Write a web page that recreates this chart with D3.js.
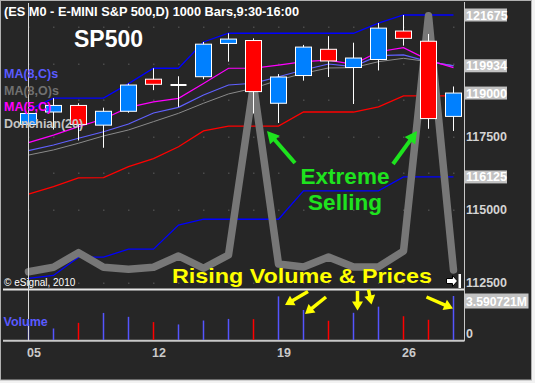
<!DOCTYPE html>
<html><head><meta charset="utf-8">
<script src="https://cdn.jsdelivr.net/npm/d3@7"></script>
<style>
html,body{margin:0;padding:0;background:#f2f2f2;}
svg{display:block;font-family:"Liberation Sans",Arial,sans-serif;}
</style>
</head><body>
<svg id="chart" width="535" height="383"></svg>
<script>
// ---------- data ----------
const dates   = ["05","06","07","08","09","12","13","14","15","16","19","20","21","22","23","26","27","28"];
const opens   = [117925,118350,118575,117900,118375,119475,119275,119560,120700,120800,118650,119600,120500,119875,120150,121125,120775,118200];
const highs   = [118425,118825,118650,118500,119325,119850,119575,120750,121050,120875,119650,120650,120950,120725,121400,121675,121025,119225];
const lows    = [117850,117750,117375,117125,118325,119100,118525,119475,120075,118300,117975,119425,119550,118625,119775,120625,117775,117700];
const closes  = [118300,118575,117925,118375,119275,119300,119275,120675,120850,119050,119550,120575,120100,120200,121225,120875,118125,119000];
const volumes = [1.30,0.94,1.40,2.21,1.89,1.46,1.27,1.59,1.72,1.70,3.56,2.45,1.57,2.22,2.72,1.94,1.65,3.590721];

const donchianUpper = [118425,118825,118825,118825,119325,119850,119850,120750,121050,121050,121050,121050,121050,121050,121400,121675,121675,121675];
const donchianMid   = [115540,115790,116090,116100,116480,116750,117160,117700,117865,117865,117865,118350,118350,118350,118525,118900,118900,118900];
const donchianLower = [112650,112750,113375,113375,113650,113650,114475,114675,114675,114675,114675,115650,115650,115650,115650,116125,116125,116125];
const ma5C  = [117300,117560,117850,118110,118510,118700,118820,119330,119850,119850,119960,120075,120130,119985,120415,120555,120130,119870];
const ma8C  = [117025,117220,117450,117675,117940,118315,118510,118935,119275,119335,119560,119790,119995,119905,120280,120305,120075,119934];
const ma8O  = [116875,117050,117280,117530,117735,118020,118305,118650,118970,119165,119445,119675,119860,119870,120075,120190,120075,119940];
const overlay = [112875,113030,113530,113030,112960,113030,113415,112995,113450,119275,113140,113040,113380,113040,113040,113585,121650,112935];

const priceTicks = [121675,119934,119000,117500,116125,115000,112500];
const boxedTicks = [121675,119934,119000,116125];
const gridLevels = [112500,115000,116250,117500,118750,120000,121250];
const dateTicks  = ["05","12","19","26"];
const volTicks   = [3.590721,0];
const legendItems = [
  {name:"MA(8,C)s", color:"#5a5aff"},
  {name:"MA(8,O)s", color:"#707070"},
  {name:"MA(5,C)",  color:"#ff00ff"},
  {name:"Donchian(20)", color:"#c4c4c4"}
];

// ---------- scales ----------
const svg = d3.select("#chart");
const n = dates.length;
const x = d3.scaleLinear().domain([0, n-1]).range([28.5, 453.5]);
const y = d3.scaleLinear().domain([112500,121675]).range([282.7,15]);
const vy = d3.scaleLinear().domain([0,3.590721]).range([340,296]);
const idx = d3.range(n);

// ---------- frame ----------
svg.append("rect").attr("x",0.5).attr("y",0.5).attr("width",531).attr("height",379.5)
  .attr("fill","#262626").attr("stroke","#b0b0b0");

const defs = svg.append("defs");
defs.append("clipPath").attr("id","mainClip").append("rect")
  .attr("x",3).attr("y",3).attr("width",461).attr("height",286);

const main = svg.append("g").attr("clip-path","url(#mainClip)");

// grid dots
gridLevels.forEach(lv => {
  idx.forEach(i => {
    main.append("rect").attr("x",x(i)-0.5).attr("y",Math.round(y(lv))-0.5)
      .attr("width",1.5).attr("height",1.5).attr("fill","#4a4a4a");
  });
});

// cursor line
svg.append("line").attr("x1",x(0)).attr("x2",x(0)).attr("y1",3).attr("y2",341)
  .attr("stroke","#d8d8d8").attr("stroke-width",1);

// header & title
svg.append("text").attr("x",4).attr("y",15.5).attr("fill","#ffffff")
  .attr("font-size",12.8).attr("font-weight","bold")
  .attr("textLength",295).attr("lengthAdjust","spacingAndGlyphs")
  .text("(ES M0 - E-MINI S&P 500,D) 1000 Bars,9:30-16:00");
svg.append("text").attr("x",74).attr("y",46.5).attr("fill","#ffffff")
  .attr("font-size",23).attr("font-weight","bold").text("SP500");

// legend
legendItems.forEach((d,k) => {
  svg.append("text").attr("x",4).attr("y",78 + k*16.6).attr("fill",d.color)
    .attr("font-size",12.5).attr("font-weight","bold").text(d.name);
});

// indicator lines
const line = d3.line().x((d,i)=>x(i)).y(d=>y(d));
function drawLine(data,color,w){
  main.append("path").datum(data).attr("d",line).attr("fill","none")
    .attr("stroke",color).attr("stroke-width",w);
}
drawLine(donchianUpper,"#0000ff",1.3);
drawLine(donchianLower,"#0000ff",1.3);
drawLine(donchianMid,"#ff0000",1.3);
drawLine(ma8O,"#8a8a8a",1);
drawLine(ma8C,"#6060ff",1.2);
drawLine(ma5C,"#ff00ff",1.2);

// thick gray overlay
main.append("path").datum(overlay).attr("d",line).attr("fill","none")
  .attr("stroke","#777777").attr("stroke-width",7.5)
  .attr("stroke-linejoin","round").attr("stroke-linecap","round");

// candles
const cg = main.append("g");
idx.forEach(i => {
  const o=opens[i], c=closes[i], h=highs[i], l=lows[i];
  cg.append("line").attr("x1",x(i)).attr("x2",x(i)).attr("y1",y(h)).attr("y2",y(l))
    .attr("stroke","#ffffff").attr("stroke-width",1);
  if (o === c) {
    cg.append("line").attr("x1",x(i)-8).attr("x2",x(i)+8).attr("y1",y(o)).attr("y2",y(o))
      .attr("stroke","#ffffff").attr("stroke-width",2);
  } else {
    const top = y(Math.max(o,c)), bot = y(Math.min(o,c));
    cg.append("rect").attr("x",x(i)-8).attr("y",top).attr("width",16).attr("height",bot-top)
      .attr("fill", c>o ? "#0080ff" : "#ff0000").attr("stroke","#ffffff").attr("stroke-width",1);
  }
});

// arrow helper
function arrow(x1,y1,x2,y2,color,w,hl,hw){
  const dx=x2-x1, dy=y2-y1, L=Math.hypot(dx,dy), ux=dx/L, uy=dy/L;
  const bx=x2-ux*hl, by=y2-uy*hl;
  svg.append("line").attr("x1",x1).attr("y1",y1).attr("x2",bx+ux*1).attr("y2",by+uy*1)
    .attr("stroke",color).attr("stroke-width",w);
  svg.append("path").attr("d",`M${x2},${y2}L${bx-uy*hw/2},${by+ux*hw/2}L${bx+uy*hw/2},${by-ux*hw/2}Z`)
    .attr("fill",color);
}

// annotations
svg.append("text").attr("x",345).attr("y",183.5).attr("text-anchor","middle").attr("fill","#1ee31e")
  .attr("font-size",22.5).attr("font-weight","bold").text("Extreme");
svg.append("text").attr("x",345).attr("y",210).attr("text-anchor","middle").attr("fill","#1ee31e")
  .attr("font-size",22.5).attr("font-weight","bold").text("Selling");
arrow(295,163,267,131,"#1ee31e",4,12,13);
arrow(393,164,417,131,"#1ee31e",4,12,13);

svg.append("text").attr("x",172).attr("y",283).attr("fill","#ffff00")
  .attr("font-size",20.5).attr("font-weight","bold")
  .attr("textLength",260).attr("lengthAdjust","spacingAndGlyphs")
  .text("Rising Volume & Prices");

svg.append("text").attr("x",4).attr("y",285.5).attr("fill","#ffffff")
  .attr("font-size",10).text("\u00A9 eSignal, 2010");

// scroll icon
svg.append("path").attr("d","M446.5,278.5h6v-3l5,5.5l-5,5.5v-3h-6z")
  .attr("fill","#ffffff").attr("stroke","#000000").attr("stroke-width",1);
svg.append("rect").attr("x",458.5).attr("y",274).attr("width",2.5).attr("height",14).attr("fill","#ffffff");

// separators and axis
svg.append("line").attr("x1",3).attr("x2",464).attr("y1",289.5).attr("y2",289.5)
  .attr("stroke","#e6e6e6").attr("stroke-width",2);
svg.append("line").attr("x1",3).attr("x2",464.5).attr("y1",340.8).attr("y2",340.8)
  .attr("stroke","#c8c8c8").attr("stroke-width",2);
svg.append("line").attr("x1",464.5).attr("x2",464.5).attr("y1",2).attr("y2",341)
  .attr("stroke","#c8c8c8").attr("stroke-width",1);

// price labels
priceTicks.forEach(p => {
  const cy = y(p);
  const boxed = boxedTicks.includes(p);
  if (boxed) {
    svg.append("rect").attr("x",465).attr("y",cy-6.5).attr("width",42).attr("height",13).attr("fill","#c2c2c2");
  }
  svg.append("text").attr("x",466).attr("y",cy+4.5).attr("fill", boxed ? "#ffffff" : "#d4d4d4")
    .attr("font-size",12.5).attr("font-weight","bold").text(p);
});

// volume bars
idx.forEach(i => {
  svg.append("line").attr("x1",x(i)).attr("x2",x(i)).attr("y1",vy(0)).attr("y2",vy(volumes[i]))
    .attr("stroke", closes[i]>=opens[i] ? "#5555ff" : "#ff0000").attr("stroke-width",1.5);
});
// cursor over volume bar
svg.append("line").attr("x1",x(0)).attr("x2",x(0)).attr("y1",292).attr("y2",341)
  .attr("stroke","#d8d8d8").attr("stroke-width",1);

svg.append("text").attr("x",3.5).attr("y",325.5).attr("fill","#5a5aff")
  .attr("font-size",12.5).attr("font-weight","bold").text("Volume");

// volume labels
volTicks.forEach(v => {
  if (v > 0) {
    svg.append("rect").attr("x",465).attr("y",vy(v)-2.5).attr("width",63.5).attr("height",15).attr("fill","#c2c2c2");
    svg.append("text").attr("x",466).attr("y",vy(v)+9.5).attr("fill","#ffffff")
      .attr("font-size",12.5).attr("font-weight","bold")
      .attr("textLength",61).attr("lengthAdjust","spacingAndGlyphs").text(v + "M");
  } else {
    svg.append("text").attr("x",466).attr("y",vy(v)-2.5).attr("fill","#d4d4d4")
      .attr("font-size",12.5).attr("font-weight","bold").text(v);
  }
});

// volume arrows
arrow(308,291.5,285,305,"#ffff00",3.5,9,11);
arrow(326,297,305,314,"#ffff00",3.5,9,11);
arrow(357.5,291,357.5,310.5,"#ffff00",3.5,9,11);
arrow(368.5,289.5,371.5,304.5,"#ffff00",3.5,9,11);
arrow(426.5,297,453,308.5,"#ffff00",3.5,9,11);

// date labels
dateTicks.forEach(dl => {
  const i = dates.indexOf(dl);
  svg.append("text").attr("x",x(i)-1.5).attr("y",357).attr("fill","#cacaca")
    .attr("font-size",12.5).attr("font-weight","bold").text(dl);
});
</script>
</body></html>
